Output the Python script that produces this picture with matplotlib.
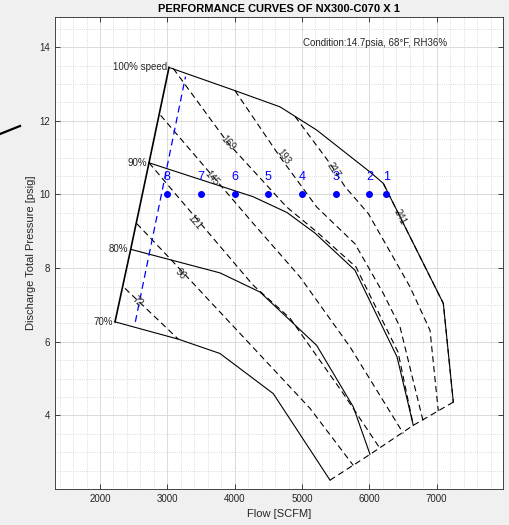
import numpy as np
import matplotlib
matplotlib.use("Agg")
import matplotlib.pyplot as plt
from matplotlib.ticker import MultipleLocator

plt.rcParams["font.family"] = ["Liberation Sans", "DejaVu Sans"]

TITLE = "PERFORMANCE CURVES OF NX300-C070 X 1"
CONDITION = "Condition:14.7psia, 68°F, RH36%"

# speed curves: flow [SCFM] vs discharge pressure [psig]
SPEED_LABELS = ["100% speed", "90%", "80%", "70%"]
SPEED_FLOW = [
    [3025, 4005, 4673, 5218, 6010, 6208, 7099, 7247],
    [2728, 4272, 4777, 5193, 5787, 6411, 6653],
    [2456, 3782, 4376, 5218, 5762, 6010],
    [2223, 3163, 3782, 4574, 5416],
]
SPEED_PRES = [
    [13.45, 12.82, 12.38, 11.75, 10.61, 10.30, 7.04, 4.36],
    [10.86, 9.94, 9.51, 8.95, 7.94, 5.59, 3.73],
    [8.51, 7.87, 7.35, 5.90, 4.23, 2.94],
    [6.54, 6.07, 5.68, 4.59, 2.24],
]

# iso-power lines (dashed)
POWER_LEVELS = [72, 96, 121, 145, 169, 193, 217, 241]
POWER_FLOW = [
    [2371, 3163],
    [2545, 3065, 5119, 5762],
    [2728, 4272, 4822, 5614, 6159],
    [2900, 4277, 4970, 5713, 6505],
    [3089, 3904, 4772, 5222, 5802, 6426, 6653],
    [4005, 4673, 5218, 5787, 6208, 6456, 6802],
    [4896, 5416, 5639, 5985, 6381, 6604, 6901, 7024],
    [6208, 7099, 7247],
]
POWER_PRES = [
    [7.45, 6.07],
    [9.21, 8.21, 4.19, 2.64],
    [10.86, 7.54, 6.64, 4.59, 3.10],
    [12.15, 9.21, 7.76, 5.86, 3.51],
    [13.42, 11.39, 9.66, 8.98, 8.03, 5.72, 3.73],
    [12.82, 11.02, 9.66, 8.66, 7.31, 6.40, 3.82],
    [12.12, 10.84, 10.21, 9.48, 8.21, 7.49, 6.31, 4.12],
    [10.30, 7.04, 4.36],
]
POWER_LABEL_FLOW = [2555, 3188, 3411, 3659, 3906, 4723, 5465, 6455]
POWER_LABEL_PRES = [7.08, 7.85, 9.26, 10.43, 11.39, 11.02, 10.66, 9.39]

# operating points and surge control line (blue)
OP_FLOW = [6250, 6000, 5500, 5000, 4500, 4000, 3500, 3000]
OP_PRES = [10, 10, 10, 10, 10, 10, 10, 10]
OP_LABELS = ["1", "2", "3", "4", "5", "6", "7", "8"]
CTRL_FLOW = [2525, 3270]
CTRL_PRES = [6.54, 13.2]

DASH = (0, (5.5, 3.5))
TXT = "#262626"


def seg_angle(ax, xs, ys, x0):
    i = 0
    for k in range(len(xs) - 1):
        if xs[k] <= x0 <= xs[k + 1]:
            i = k
            break
    p1 = ax.transData.transform((xs[i], ys[i]))
    p2 = ax.transData.transform((xs[i + 1], ys[i + 1]))
    return np.degrees(np.arctan2(p2[1] - p1[1], p2[0] - p1[0]))


fig = plt.figure(figsize=(5.1, 5.25), dpi=100, facecolor="#f0f0f0")
ax = fig.add_axes([55 / 510, 1 - 489 / 525, 448 / 510, 472 / 525])
ax.set_facecolor("white")
ax.set_xlim(1332, 7985)
ax.set_ylim(2.0, 14.82)
ax.set_xticks([2000, 3000, 4000, 5000, 6000, 7000])
ax.set_yticks([4, 6, 8, 10, 12, 14])
ax.xaxis.set_minor_locator(MultipleLocator(200))
ax.yaxis.set_minor_locator(MultipleLocator(0.5))
ax.set_axisbelow(True)
ax.grid(which="major", color="#dadada", lw=0.7)
ax.grid(which="minor", color="#cfcfcf", ls=":", lw=0.6)
ax.tick_params(which="major", direction="in", top=True, right=True,
               length=3.5, width=0.6, labelsize=7, labelcolor=TXT, color=TXT)
ax.tick_params(which="minor", length=0)
for s in ax.spines.values():
    s.set_color(TXT)
    s.set_linewidth(0.6)

# speed lines
for fl, pr, lbl in zip(SPEED_FLOW, SPEED_PRES, SPEED_LABELS):
    ax.plot(fl, pr, color="black", lw=0.8)
    ax.annotate(lbl, (fl[0], pr[0]), xytext=(-1.5, 0), textcoords="offset points",
                ha="right", va="center", fontsize=7, color=TXT)

# surge line through the start points, choke line through the end points
ax.plot([f[0] for f in SPEED_FLOW], [p[0] for p in SPEED_PRES],
        color="black", lw=1.2)
ax.plot([f[-1] for f in SPEED_FLOW], [p[-1] for p in SPEED_PRES],
        color="black", lw=0.8, ls=DASH)

# iso-power lines
for fl, pr, lev, lx, ly in zip(POWER_FLOW, POWER_PRES, POWER_LEVELS,
                               POWER_LABEL_FLOW, POWER_LABEL_PRES):
    ax.plot(fl, pr, color="black", lw=0.8, ls=DASH)
    ang = seg_angle(ax, fl, pr, lx)
    ax.text(lx, ly, str(lev), rotation=ang, rotation_mode="anchor",
            ha="center", va="center", fontsize=7, color=TXT)

# surge control line and operating points
ax.plot(CTRL_FLOW, CTRL_PRES, color="blue", lw=0.9, ls=DASH)
ax.plot(OP_FLOW, OP_PRES, "o", color="blue", ms=4)
for x, y, t in zip(OP_FLOW, OP_PRES, OP_LABELS):
    ax.text(x, y + 0.48, t, ha="center", va="center", fontsize=9, color="blue")

ax.text(5010, 14.11, CONDITION, ha="left", va="center", fontsize=7, color=TXT)

ax.set_xlabel("Flow [SCFM]", fontsize=8, color=TXT)
ax.set_ylabel("Discharge Total Pressure [psig]", fontsize=8, color=TXT)
ax.yaxis.set_label_coords(-(55 - 36.5) / 448, 0.5)
ax.xaxis.set_label_coords(0.5, -(509 - 489) / 472)
fig.text(0.547, 1 - 9.5 / 525, TITLE, ha="center", va="center",
         fontsize=8, fontweight="bold", color="black")

# stray stroke at the left edge of the figure
fig.add_artist(plt.Line2D([0, 20 / 510], [1 - 134 / 525, 1 - 126 / 525],
                          color="black", lw=1.6))

fig.savefig("out.png", dpi=100, facecolor=fig.get_facecolor())
